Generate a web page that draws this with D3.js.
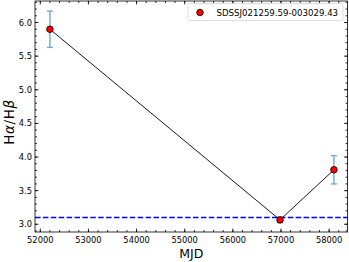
<!DOCTYPE html>
<html>
<head>
<meta charset="utf-8">
<script src="https://cdn.jsdelivr.net/npm/d3@7"></script>
<style>
body{margin:0;background:#fff;}
text{font-family:"DejaVu Sans",sans-serif;}
</style>
</head>
<body>
<div id="container"></div>
<script>
var mjd = [52200, 56980, 58100];
var ratio = [5.90, 3.065, 3.81];
var ratioErr = [0.27, 0.04, 0.21];
var refLine = 3.1;
var objName = "SDSSJ021259.59-003029.43";
var xTicks = [52000, 53000, 54000, 55000, 56000, 57000, 58000];
var yTicks = [3.0, 3.5, 4.0, 4.5, 5.0, 5.5, 6.0];

var width = 349, height = 262;
var margin = {top: 1, right: 1.5, bottom: 30, left: 35};
var w = width - margin.left - margin.right,
    h = height - margin.top - margin.bottom;

var svg = d3.select("#container").append("svg")
  .attr("width", width)
  .attr("height", height);
var g = svg.append("g")
  .attr("transform", "translate(" + margin.left + "," + margin.top + ")");

var x = d3.scaleLinear().domain([51890, 58382]).range([0, w]);
var y = d3.scaleLinear().domain([2.885, 6.32]).range([h, 0]);

// minor ticks
var xMinor = d3.range(51800, 58400, 200).filter(d => d >= x.domain()[0] && d <= x.domain()[1]);
var yMinor = d3.range(29, 64).map(d => d / 10).filter(d => d >= y.domain()[0] && d <= y.domain()[1]);

function tickLines(vals, isX, len){
  vals.forEach(function(v){
    if(isX){
      g.append("line").attr("x1", x(v)).attr("x2", x(v)).attr("y1", h).attr("y2", h - len).attr("stroke", "#000").attr("stroke-width", 0.8);
      g.append("line").attr("x1", x(v)).attr("x2", x(v)).attr("y1", 0).attr("y2", len).attr("stroke", "#000").attr("stroke-width", 0.8);
    }else{
      g.append("line").attr("y1", y(v)).attr("y2", y(v)).attr("x1", 0).attr("x2", len).attr("stroke", "#000").attr("stroke-width", 0.8);
      g.append("line").attr("y1", y(v)).attr("y2", y(v)).attr("x1", w).attr("x2", w - len).attr("stroke", "#000").attr("stroke-width", 0.8);
    }
  });
}
tickLines(xMinor, true, 2);
tickLines(yMinor, false, 2);
tickLines(xTicks, true, 3.5);
tickLines(yTicks, false, 3.5);

// tick labels
g.selectAll(".xl").data(xTicks).enter().append("text")
  .attr("x", d => x(d)).attr("y", h + 11)
  .attr("text-anchor", "middle").attr("font-size", 8.3)
  .text(d => d);
g.selectAll(".yl").data(yTicks).enter().append("text")
  .attr("x", -3).attr("y", d => y(d) + 3)
  .attr("text-anchor", "end").attr("font-size", 8.3)
  .text(d => d3.format(".1f")(d));

// axis labels
svg.append("text").attr("x", margin.left + w / 2).attr("y", 258)
  .attr("text-anchor", "middle").attr("font-size", 12.5).text("MJD");
svg.append("text").attr("transform", "translate(14,122) rotate(-90)")
  .attr("text-anchor", "middle").attr("font-size", 13.5).attr("letter-spacing", 0.6)
  .html('H<tspan font-style="italic">α</tspan>/H<tspan font-style="italic">β</tspan>');

// reference line
g.append("line").attr("x1", 0).attr("x2", w).attr("y1", y(refLine)).attr("y2", y(refLine))
  .attr("stroke", "#0000ff").attr("stroke-width", 1.5).attr("stroke-dasharray", "5.5,2.4");

// error bars
var errColor = "#6fa9d6";
mjd.forEach(function(m, i){
  var cx = x(m);
  g.append("line").attr("x1", cx).attr("x2", cx)
    .attr("y1", y(ratio[i] - ratioErr[i])).attr("y2", y(ratio[i] + ratioErr[i]))
    .attr("stroke", errColor).attr("stroke-width", 1.4);
  [ratio[i] - ratioErr[i], ratio[i] + ratioErr[i]].forEach(function(v){
    g.append("line").attr("x1", cx - 3).attr("x2", cx + 3).attr("y1", y(v)).attr("y2", y(v))
      .attr("stroke", errColor).attr("stroke-width", 1.4);
  });
});

// connecting line
var pts = mjd.map((m, i) => [m, ratio[i]]);
g.append("path").datum(pts)
  .attr("d", d3.line().x(d => x(d[0])).y(d => y(d[1])))
  .attr("fill", "none").attr("stroke", "#000").attr("stroke-width", 0.9);

// markers
g.selectAll(".pt").data(pts).enter().append("circle")
  .attr("cx", d => x(d[0])).attr("cy", d => y(d[1])).attr("r", 3.3)
  .attr("fill", "#ff0000").attr("stroke", "#000").attr("stroke-width", 0.8);

// frame
g.append("rect").attr("width", w).attr("height", h)
  .attr("fill", "none").attr("stroke", "#000").attr("stroke-width", 0.8);

// legend
var lg = svg.append("g");
lg.append("rect").attr("x", 188).attr("y", 3.5).attr("width", 155).attr("height", 17).attr("rx", 2)
  .attr("fill", "#fff").attr("fill-opacity", 0.8).attr("stroke", "#d6d6d6").attr("stroke-width", 0.8);
lg.append("circle").attr("cx", 200).attr("cy", 12.5).attr("r", 3.3)
  .attr("fill", "#ff0000").attr("stroke", "#000").attr("stroke-width", 0.8);
lg.append("text").attr("x", 216.5).attr("y", 15.5).attr("font-size", 8.6).text(objName);
</script>
</body>
</html>
